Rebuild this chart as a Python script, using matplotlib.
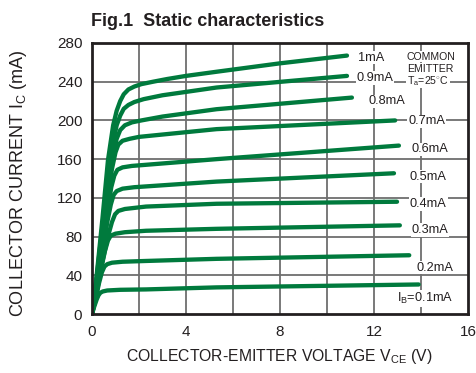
import matplotlib
matplotlib.use("Agg")
import matplotlib.pyplot as plt

plt.rcParams['font.family'] = ['Liberation Sans', 'DejaVu Sans']
plt.rcParams['mathtext.fontset'] = 'custom'
plt.rcParams['mathtext.rm'] = 'Liberation Sans'
plt.rcParams['mathtext.it'] = 'Liberation Sans'

# Base current curves (Vce in V, Ic in mA)
v_10 = [0, 0.2, 0.45, 0.68, 0.9, 1.05, 1.2, 1.35, 1.55, 1.8, 2.1, 2.6, 3.2, 4.0, 5.3, 8.0, 10.85]
i_10 = [0, 40, 100, 159, 195, 210, 220, 227, 232, 235, 237.5, 240, 242.8, 246, 250.3, 259, 267]
v_09 = [0, 0.2, 0.45, 0.7, 0.9, 1.05, 1.2, 1.35, 1.55, 1.8, 2.2, 3.0, 5.3, 10.85]
i_09 = [0, 38, 92, 145, 178, 195, 205, 212, 216, 219, 222, 226, 234, 246]
v_08 = [0, 0.2, 0.45, 0.7, 0.9, 1.05, 1.2, 1.4, 1.7, 2.1, 3.0, 5.3, 11.06]
i_08 = [0, 36, 85, 135, 165, 181, 190, 195, 198, 200, 204, 211.6, 223.6]
v_07 = [0, 0.2, 0.45, 0.7, 0.85, 1.0, 1.12, 1.3, 1.6, 2.0, 5.3, 12.9]
i_07 = [0, 34, 80, 125, 150, 167, 175, 179, 181, 183, 191, 200]
v_06 = [0, 0.2, 0.45, 0.7, 0.82, 0.95, 1.08, 1.3, 1.7, 5.3, 13.06]
i_06 = [0, 30, 72, 112, 131, 143, 149, 151.5, 153, 160, 174]
v_05 = [0, 0.2, 0.45, 0.65, 0.8, 0.92, 1.05, 1.3, 1.8, 5.3, 12.85]
i_05 = [0, 27, 63, 95, 113, 123, 127, 129.5, 131, 136.8, 145.4]
v_04 = [0, 0.2, 0.45, 0.7, 0.85, 0.98, 1.12, 1.4, 2.3, 5.3, 12.98]
i_04 = [0, 24, 55, 82, 95, 103, 106.5, 108.5, 111, 113.9, 116]
v_03 = [0, 0.2, 0.4, 0.55, 0.68, 0.8, 1.0, 1.4, 2.3, 5.3, 13.1]
i_03 = [0, 22, 48, 65, 76, 81, 83, 84.5, 86, 88, 91.6]
v_02 = [0, 0.15, 0.3, 0.42, 0.53, 0.65, 0.85, 1.3, 2.3, 5.3, 13.5]
i_02 = [0, 15, 32, 43, 49, 51.5, 53, 54, 54.8, 57, 60.7]
v_01 = [0, 0.1, 0.2, 0.28, 0.36, 0.46, 0.65, 1.2, 2.3, 5.3, 13.9]
i_01 = [0, 8, 15, 19.5, 22, 23.3, 24.3, 25, 25.4, 27.5, 30.5]

curves_v = [v_10, v_09, v_08, v_07, v_06, v_05, v_04, v_03, v_02, v_01]
curves_i = [i_10, i_09, i_08, i_07, i_06, i_05, i_04, i_03, i_02, i_01]

labels = ['1mA', '0.9mA', '0.8mA', '0.7mA', '0.6mA', '0.5mA', '0.4mA', '0.3mA', '0.2mA',
          r'I$_{\rm B}$=0.1mA']
label_x = [11.3, 11.26, 11.75, 13.45, 13.6, 13.5, 13.53, 13.6, 13.8, 12.97]
label_y = [265, 244, 219.6, 199, 170, 142, 114, 86.6, 48, 16]

x_ticks = [0, 4, 8, 12, 16]
y_ticks = [0, 40, 80, 120, 160, 200, 240, 280]

green = '#007A3D'
grid_c = '#6e6e6e'
frame_c = '#231f20'

fig = plt.figure(figsize=(4.77, 3.73), dpi=100)
ax = fig.add_axes([92/477, 1 - 314/373, (468 - 92)/477, (314 - 43)/373])
ax.set_xlim(0, 16)
ax.set_ylim(0, 280)

for xv in range(2, 16, 2):
    ax.axvline(xv, color=grid_c, lw=1.3, zorder=1)
for yv in range(40, 280, 40):
    ax.axhline(yv, color=grid_c, lw=1.3, zorder=1)

for v, i in zip(curves_v, curves_i):
    ax.plot(v, i, color=green, lw=3.1, solid_capstyle='round', solid_joinstyle='round', zorder=3)

for lab, lx, ly in zip(labels, label_x, label_y):
    ax.text(lx, ly, lab, fontsize=9.2, color='#231f20', ha='left', va='center', zorder=4,
            bbox=dict(facecolor='white', edgecolor='none', pad=0.6))

for txt, yy in [('COMMON', 266), ('EMITTER', 253.6), (r'T$_{\rm a}$=25$^{\circ}$C', 241)]:
    ax.text(13.4, yy, txt, fontsize=7.6, color='#231f20', ha='left', va='center', zorder=4,
            bbox=dict(facecolor='white', edgecolor='none', pad=0.6))

ax.set_xticks(x_ticks)
ax.set_yticks(y_ticks)
ax.tick_params(length=0, labelsize=11, colors='#231f20')
ax.tick_params(axis='x', pad=8)
ax.tick_params(axis='y', pad=7)
for s in ax.spines.values():
    s.set_color(frame_c)
    s.set_linewidth(2.0)
    s.set_zorder(5)

fig.text(279/477, 1 - 356/373, r'COLLECTOR-EMITTER VOLTAGE V$_{\rm CE}$ (V)', fontsize=11.3,
         color='#231f20', ha='center', va='center')
fig.text(19/477, 1 - 183/373, r'COLLECTOR CURRENT I$_{\rm C}$ (mA)', fontsize=13,
         color='#231f20', ha='center', va='center', rotation=90)
fig.text(91/477, 1 - 21/373, 'Fig.1  Static characteristics', fontsize=13, fontweight='bold',
         color='#231f20', ha='left', va='center')

fig.savefig('out.png', dpi=100)
